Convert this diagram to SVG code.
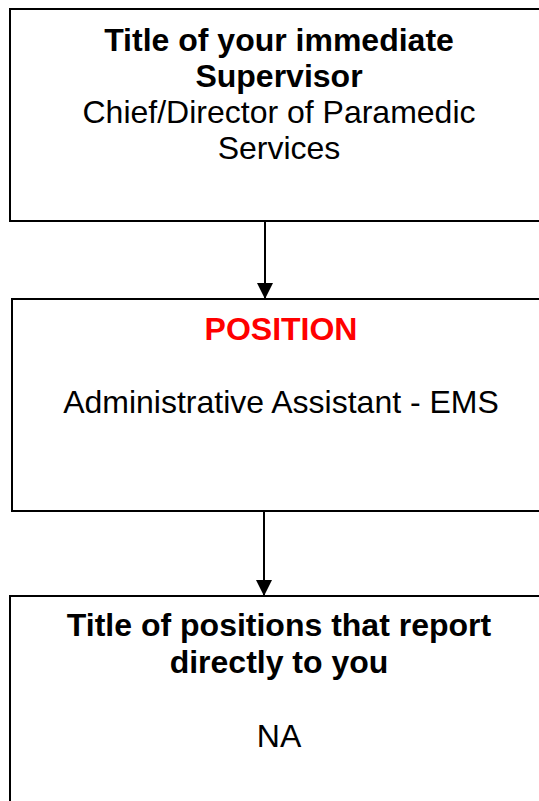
<svg xmlns="http://www.w3.org/2000/svg" width="539" height="801" viewBox="0 0 539 801">
<style>
.box{fill:#fff;stroke:#000;stroke-width:2}
.t{font-family:"Liberation Sans",Arial,sans-serif;font-size:32px;text-anchor:middle;fill:#000}
.b{font-weight:bold}
.red{fill:#ff0000}
.conn{stroke:#000;stroke-width:2;fill:none}
</style>
<defs>
<marker id="arr" markerUnits="userSpaceOnUse" markerWidth="16" markerHeight="16" refX="16" refY="8" orient="auto">
<path d="M0,0 L16,8 L0,16 Z" fill="#000"/>
</marker>
</defs>
<g id="connectors">
<line class="conn" x1="265" y1="222" x2="265" y2="299" marker-end="url(#arr)"/>
<line class="conn" x1="264" y1="512" x2="264" y2="596" marker-end="url(#arr)"/>
</g>
<g id="supervisor">
<rect class="box" x="10" y="9" width="538" height="212"/>
<text class="t b" x="279" y="51">Title of your immediate</text>
<text class="t b" x="279" y="87">Supervisor</text>
<text class="t" x="279" y="123">Chief/Director of Paramedic</text>
<text class="t" x="279" y="159">Services</text>
</g>
<g id="position">
<rect class="box" x="12" y="299" width="538" height="212"/>
<text class="t b red" x="281" y="340">POSITION</text>
<text class="t" x="281" y="413">Administrative Assistant - EMS</text>
</g>
<g id="reports">
<rect class="box" x="10" y="596" width="538" height="220"/>
<text class="t b" x="279" y="636">Title of positions that report</text>
<text class="t b" x="279" y="673">directly to you</text>
<text class="t" x="279" y="747">NA</text>
</g>
</svg>
